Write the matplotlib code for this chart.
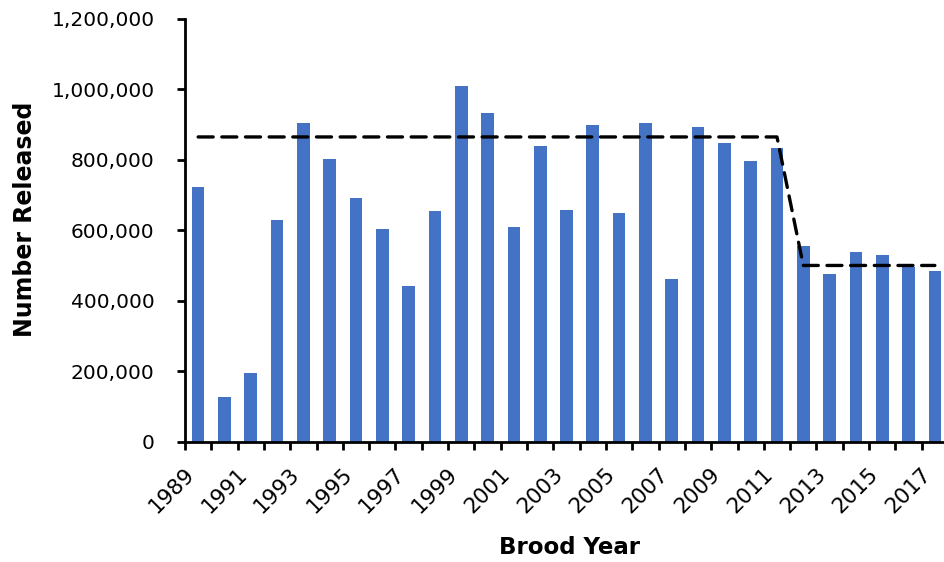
import matplotlib.pyplot as plt
from matplotlib.ticker import FuncFormatter, MultipleLocator

plt.rcParams['font.family'] = 'DejaVu Sans'

years = list(range(1989, 2018))
released = [723000, 127000, 194000, 630000, 904000, 801000, 691000, 603000,
            442000, 654000, 1010000, 934000, 608000, 839000, 657000, 898000,
            648000, 904000, 461000, 893000, 848000, 797000, 833000, 554000,
            475000, 539000, 530000, 497000, 485000]
goal = [865000] * 23 + [500000] * 6

fig = plt.figure(figsize=(9.45, 5.62), dpi=100)
ax = fig.add_axes([185 / 945, 1 - 441.5 / 562, 763 / 945, (441.5 - 19) / 562])

x = list(range(len(years)))
ax.bar(x, released, width=0.48, color='#4472C4', zorder=2)
ax.plot(x, goal, color='black', lw=2.4, dashes=(4.5, 2.6),
        dash_capstyle='round', zorder=3)

ax.set_xlim(-0.5, len(years) - 0.5)
ax.set_ylim(0, 1200000)
ax.yaxis.set_major_locator(MultipleLocator(200000))
ax.yaxis.set_major_formatter(FuncFormatter(lambda v, p: f'{int(v):,}'))

# tick marks on category edges, labels on every other year centre
ax.set_xticks([i - 0.5 for i in range(len(years) + 1)])
ax.set_xticklabels([])
ax.set_xticks(x[::2], minor=True)
ax.set_xticklabels([str(y) for y in years[::2]], minor=True, rotation=45,
                   ha='right', va='top', fontsize=15.5)
ax.tick_params(axis='x', which='minor', length=0, pad=16)
ax.tick_params(axis='x', which='major', length=6, width=2)
ax.tick_params(axis='y', length=6, width=2, labelsize=14.5, pad=16)

for s in ['top', 'right']:
    ax.spines[s].set_visible(False)
for s in ['left', 'bottom']:
    ax.spines[s].set_linewidth(2)

fig.text(25 / 945, 1 - 219 / 562, 'Number Released', rotation=90,
         fontsize=17, fontweight='bold', ha='center', va='center')
fig.text(570 / 945, 1 - 548 / 562, 'Brood Year',
         fontsize=16.5, fontweight='bold', ha='center', va='center')

fig.savefig('out.png', dpi=100)
